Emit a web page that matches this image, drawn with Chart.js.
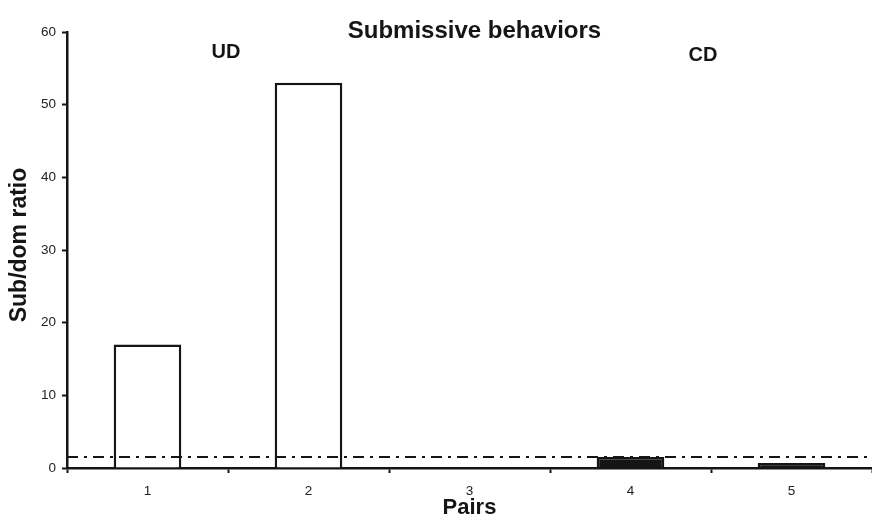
<!DOCTYPE html>
<html>
<head>
<meta charset="utf-8">
<style>
  html, body { margin: 0; padding: 0; background: #fff; }
  #wrap { width: 872px; height: 518px; }
</style>
<script src="https://cdn.jsdelivr.net/npm/chart.js@4/dist/chart.umd.min.js"></script>
</head>
<body>
<div id="wrap"><canvas id="c" width="872" height="518"></canvas></div>
<script>
// Sub/dom ratio of submissive behaviours per pair
const pairs = ['1', '2', '3', '4', '5'];
const subDomRatio = [17, 53, 0, 1.5, 0.7];
const pairGroup = ['UD', 'UD', '', 'CD', 'CD'];
const yTickValues = [0, 10, 20, 30, 40, 50, 60];
const parityLevel = 1.5;

const chartTitle = 'Submissive behaviors';
const xAxisTitle = 'Pairs';
const yAxisTitle = 'Sub/dom ratio';

const FONT = '"Liberation Sans", Arial, Helvetica, sans-serif';
const INK = '#151515';

// Dash-dot reference line and text annotations
const overlay = {
  id: 'overlay',
  afterDatasetsDraw(chart) {
    const { ctx, chartArea, scales } = chart;
    const y = scales.y.getPixelForValue(parityLevel);
    ctx.save();
    ctx.strokeStyle = INK;
    ctx.lineWidth = 2;
    ctx.setLineDash([11, 6, 3, 6]);
    ctx.beginPath();
    ctx.moveTo(chartArea.left, y);
    ctx.lineTo(chartArea.right, y);
    ctx.stroke();
    ctx.restore();
  },
  afterDraw(chart) {
    const { ctx, chartArea, scales } = chart;
    const cx = (chartArea.left + chartArea.right) / 2;
    ctx.save();
    ctx.fillStyle = INK;
    ctx.textAlign = 'center';
    ctx.textBaseline = 'middle';

    ctx.font = 'bold 24px ' + FONT;
    ctx.fillText(chartTitle, cx + 5, 31);

    // group labels centred over the pairs they cover
    ctx.font = 'bold 20px ' + FONT;
    const groups = [...new Set(pairGroup.filter(g => g))];
    groups.forEach(g => {
      const xs = pairGroup.map((p, i) => p === g ? scales.x.getPixelForValue(i) : null).filter(v => v !== null);
      const gx = xs.reduce((a, b) => a + b, 0) / xs.length;
      ctx.fillText(g, gx - (g === 'CD' ? 8 : 2), g === 'CD' ? 55 : 52);
    });

    ctx.font = 'bold 22px ' + FONT;
    ctx.fillText(xAxisTitle, cx, 508);

    ctx.translate(20, 245);
    ctx.rotate(-Math.PI / 2);
    ctx.font = 'bold 23px ' + FONT;
    ctx.fillText(yAxisTitle, 0, 0);
    ctx.restore();
  }
};

new Chart(document.getElementById('c'), {
  type: 'bar',
  data: {
    labels: pairs,
    datasets: [{
      data: subDomRatio,
      backgroundColor: ctx => pairGroup[ctx.dataIndex] === 'CD' ? INK : '#ffffff',
      borderColor: INK,
      borderWidth: 2.5,
      borderSkipped: 'start',
      barPercentage: 0.42,
      categoryPercentage: 1
    }]
  },
  options: {
    responsive: false,
    animation: false,
    devicePixelRatio: 1,
    layout: { padding: { top: 32, right: 0, left: 0, bottom: 0 } },
    plugins: {
      legend: { display: false },
      title: { display: false },
      tooltip: { enabled: false }
    },
    scales: {
      x: {
        offset: true,
        grid: {
          offset: true,
          drawOnChartArea: false,
          drawTicks: true,
          tickLength: 5,
          tickWidth: 2,
          tickColor: INK
        },
        border: { display: true, color: INK, width: 2.5 },
        ticks: { color: '#222', font: { family: FONT, size: 13.5 }, padding: 10 },
        afterFit(scale) { scale.height = 50; }
      },
      y: {
        min: 0,
        max: 60,
        afterBuildTicks(scale) { scale.ticks = yTickValues.map(v => ({ value: v })); },
        grid: {
          drawOnChartArea: false,
          drawTicks: true,
          tickLength: 5,
          tickWidth: 2,
          tickColor: INK
        },
        border: { display: true, color: INK, width: 2.5 },
        ticks: { color: '#222', font: { family: FONT, size: 13.5 }, padding: 6 },
        afterFit(scale) { scale.width = 67; }
      }
    }
  },
  plugins: [overlay]
});
</script>
</body>
</html>
